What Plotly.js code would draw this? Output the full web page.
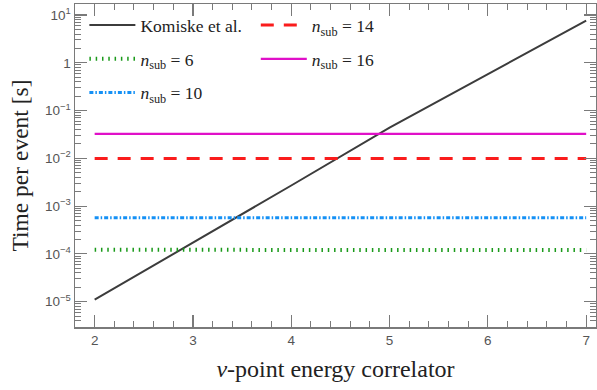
<!DOCTYPE html>
<html>
<head>
<meta charset="utf-8">
<script src="https://cdn.plot.ly/plotly-3.0.1.min.js"></script>
<style>html,body{margin:0;padding:0;background:#fff}#chart{width:597px;height:390px}</style>
</head>
<body>
<div id="chart"></div>
<script>
const nu = [2, 3, 4, 5, 6, 7];
const komiske = [1.1e-5, 1.7e-4, 2.7e-3, 4.4e-2, 0.59, 7.6];
const nsub6 = [1.22e-4, 1.22e-4, 1.22e-4, 1.22e-4, 1.22e-4, 1.2e-4];
const nsub10 = [5.7e-4, 5.7e-4, 5.8e-4, 5.8e-4, 5.8e-4, 5.7e-4];
const nsub14 = [0.0099, 0.0099, 0.0099, 0.0099, 0.0099, 0.0099];
const nsub16 = [0.0325, 0.0328, 0.0327, 0.0326, 0.0326, 0.0325];
const yTickVals = [1e-5, 1e-4, 1e-3, 1e-2, 1e-1, 1, 10];
const yTickText = ['10<sup>\u22125</sup>', '10<sup>\u22124</sup>', '10<sup>\u22123</sup>', '10<sup>\u22122</sup>', '10<sup>\u22121</sup>', '1', '10<sup>1</sup>'];

const minorY = [];
for (let e = -6; e <= 1; e++) for (let m = 2; m <= 9; m++) minorY.push(m * Math.pow(10, e));

const serif = 'Liberation Serif';
const sans = 'Liberation Sans';
const lab = s => '<i>n</i><sub>sub</sub> = ' + s;

const traces = [
  {x: nu, y: komiske, name: 'Komiske et al.', mode: 'lines', line: {color: '#3c3c3c', width: 2}, legend: 'legend', legendgroup: 'a'},
  {x: nu, y: nsub6, name: lab('6'), mode: 'lines', line: {color: '#1a9a1a', width: 4, dash: '1.5px,4.8px'}, legend: 'legend', legendgroup: 'b'},
  {x: nu, y: nsub10, name: lab('10'), mode: 'lines', line: {color: '#1490f5', width: 3, dash: '4px,2px,1.5px,2px'}, legend: 'legend', legendgroup: 'c'},
  {x: nu, y: nsub14, name: lab('14'), mode: 'lines', line: {color: '#fa1c1c', width: 3, dash: '13px,10px'}, legend: 'legend2', legendgroup: 'd'},
  {x: nu, y: nsub16, name: lab('16'), mode: 'lines', line: {color: '#e010c8', width: 2.2}, legend: 'legend2', legendgroup: 'e'}
];

const legendBase = {
  bgcolor: 'rgba(0,0,0,0)', borderwidth: 0,
  font: {family: serif, size: 17.5, color: '#222'},
  itemwidth: 46, tracegroupgap: 8, traceorder: 'grouped', yanchor: 'top', xanchor: 'left'
};

const axisCommon = {
  showline: true, linecolor: '#7a7a7a', linewidth: 1.5, mirror: 'ticks',
  ticks: 'inside', ticklen: 12, tickwidth: 1.2, tickcolor: '#7a7a7a',
  showgrid: false, zeroline: false,
  tickfont: {family: sans, size: 13.5, color: '#555'}
};

const layout = {
  width: 597, height: 390,
  margin: {l: 75, r: 1, t: 4, b: 63},
  paper_bgcolor: '#fff', plot_bgcolor: '#fff',
  font: {family: serif, color: '#222'},
  showlegend: true,
  legend: Object.assign({}, legendBase, {x: 0.018, y: 0.99}),
  legend2: Object.assign({}, legendBase, {x: 0.347, y: 0.99}),
  xaxis: Object.assign({}, axisCommon, {
    range: [1.8, 7.1], dtick: 1, tick0: 0,
    minor: {ticks: 'inside', ticklen: 6, dtick: 0.2, tick0: 0, tickcolor: '#7a7a7a', tickwidth: 1, showgrid: false},
    title: {text: '<i>\u03bd</i>-point energy correlator', font: {family: serif, size: 24, color: '#222'}, standoff: 13}
  }),
  yaxis: Object.assign({}, axisCommon, {
    type: 'log', range: [-5.53, 1.23],
    tickmode: 'array', tickvals: yTickVals, ticktext: yTickText,
    minor: {ticks: 'inside', ticklen: 6, tickmode: 'array', tickvals: minorY, tickcolor: '#7a7a7a', tickwidth: 1, showgrid: false},
    title: {text: 'Time per event [s]', font: {family: serif, size: 23.5, color: '#222'}, standoff: 10}
  })
};

Plotly.newPlot('chart', traces, layout, {displayModeBar: false, staticPlot: true});
</script>
</body>
</html>
